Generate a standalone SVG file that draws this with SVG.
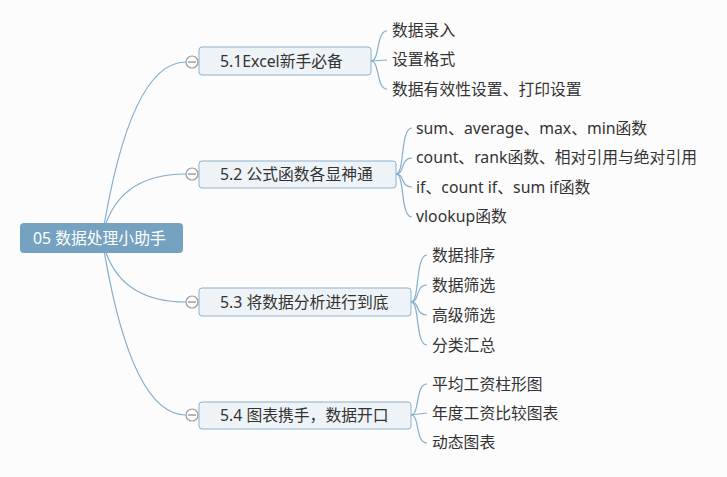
<svg xmlns="http://www.w3.org/2000/svg" width="727" height="477" viewBox="0 0 727 477">
<style>
text{font-family:"Noto Sans","Noto Sans CJK SC",sans-serif;font-size:15.8px;fill:#333;}
.root text{fill:#fff;}
.br rect{fill:#EEF3F7;stroke:#8DB1CD;stroke-width:1;}
.lk path{fill:none;stroke:#84AECB;stroke-width:1.2;}
.col circle{fill:#fff;stroke:#9c9c9c;stroke-width:1.2;}
.col line{stroke:#888;stroke-width:1.2;}
</style>
<rect width="727" height="477" fill="#FCFCFC"/>
<g id="connectors" class="lk">
<path d="M102 238 Q130 62 186 62"/>
<path d="M102 238 Q115 174 186 174"/>
<path d="M102 238 Q115 302 186 302"/>
<path d="M102 238 Q130 415 186 415"/>
<path d="M371 61 C380 61 376 31 387 31"/>
<path d="M371 61 L387 60"/>
<path d="M371 61 C380 61 376 89 387 89"/>
<path d="M396 174 C405 174 400 128 412 128"/>
<path d="M396 174 C405 174 400 158 412 158"/>
<path d="M396 174 C405 174 400 187 412 187"/>
<path d="M396 174 C405 174 400 217 412 217"/>
<path d="M411 302 C420 302 415 255 427 255"/>
<path d="M411 302 C420 302 415 285 427 285"/>
<path d="M411 302 C420 302 415 315 427 315"/>
<path d="M411 302 C420 302 415 345 427 345"/>
<path d="M411 415 C420 415 415 384 427 384"/>
<path d="M411 415 L427 413"/>
<path d="M411 415 C420 415 415 443 427 443"/>
</g>
<g id="root" class="root">
<rect x="20" y="223" width="163" height="30" rx="4" fill="#74A2C0"/>
<text x="33" y="243.5" font-size="16">05 数据处理小助手</text>
</g>
<g id="b1" class="br">
<rect x="199" y="47" width="172" height="28" rx="3"/>
<text x="220" y="66.5">5.1Excel新手必备</text>
</g>
<g id="b2" class="br">
<rect x="199" y="161" width="197" height="27" rx="3"/>
<text x="220" y="180">5.2 公式函数各显神通</text>
</g>
<g id="b3" class="br">
<rect x="199" y="288" width="212" height="28" rx="3"/>
<text x="220" y="307.5">5.3 将数据分析进行到底</text>
</g>
<g id="b4" class="br">
<rect x="199" y="402" width="212" height="27" rx="3"/>
<text x="220" y="421">5.4 图表携手，数据开口</text>
</g>
<g class="col">
<g><circle cx="192" cy="62" r="6"/><line x1="188" y1="62" x2="196" y2="62"/></g>
<g><circle cx="192" cy="174" r="6"/><line x1="188" y1="174" x2="196" y2="174"/></g>
<g><circle cx="192" cy="302" r="6"/><line x1="188" y1="302" x2="196" y2="302"/></g>
<g><circle cx="192" cy="415" r="6"/><line x1="188" y1="415" x2="196" y2="415"/></g>
</g>
<g id="l1a"><text x="392" y="36">数据录入</text></g>
<g id="l1b"><text x="392" y="65">设置格式</text></g>
<g id="l1c"><text x="392" y="94.5">数据有效性设置、打印设置</text></g>
<g id="l2a"><text x="416" y="133.5">sum、average、max、min函数</text></g>
<g id="l2b"><text x="416" y="163">count、rank函数、相对引用与绝对引用</text></g>
<g id="l2c"><text x="416" y="192.5">if、count if、sum if函数</text></g>
<g id="l2d"><text x="416" y="222">vlookup函数</text></g>
<g id="l3a"><text x="432" y="260.5">数据排序</text></g>
<g id="l3b"><text x="432" y="290.5">数据筛选</text></g>
<g id="l3c"><text x="432" y="320.5">高级筛选</text></g>
<g id="l3d"><text x="432" y="350.5">分类汇总</text></g>
<g id="l4a"><text x="432" y="389.5">平均工资柱形图</text></g>
<g id="l4b"><text x="432" y="418.5">年度工资比较图表</text></g>
<g id="l4c"><text x="432" y="448">动态图表</text></g>
</svg>
